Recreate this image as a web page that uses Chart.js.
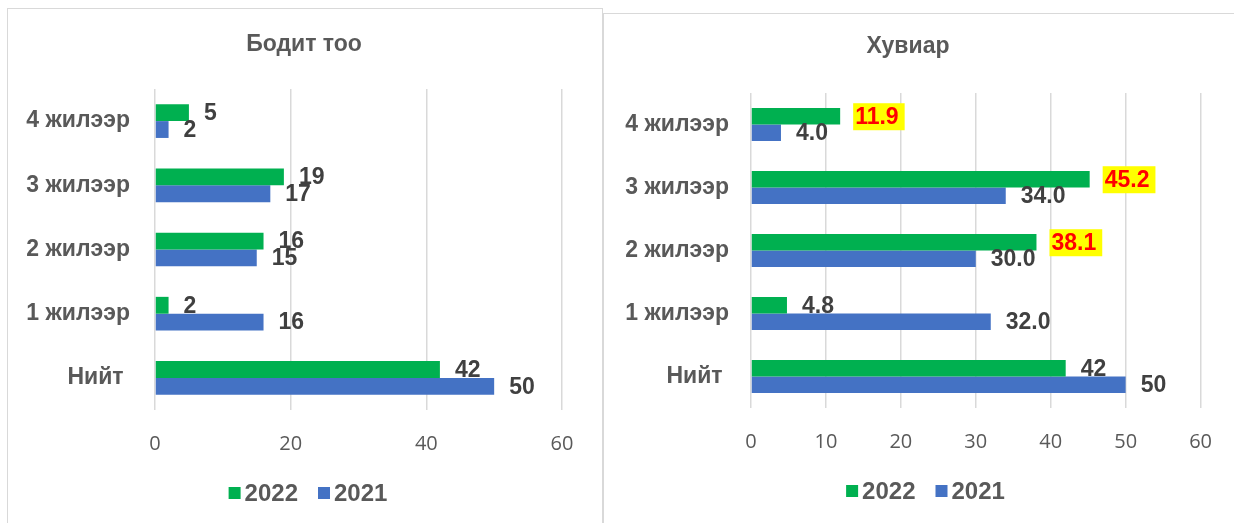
<!DOCTYPE html>
<html><head><meta charset="utf-8">
<script src="https://cdn.jsdelivr.net/npm/chart.js@4/dist/chart.umd.min.js"></script>
<style>
html,body{margin:0;padding:0;background:#fff;width:1234px;height:523px;overflow:hidden;position:relative}
.panel{position:absolute;border:1.5px solid #d9d9d9;box-sizing:border-box;background:#fff}
canvas{position:absolute;top:0}
</style></head><body>
<div class="panel" style="left:7px;top:8px;width:596px;height:540px"></div>
<div class="panel" style="left:603px;top:13px;width:660px;height:540px"></div>
<canvas id="c1" width="594" height="523" style="left:8px"></canvas>
<canvas id="c2" width="629" height="523" style="left:605px"></canvas>
<script>
const categories = ['4 жилээр', '3 жилээр', '2 жилээр', '1 жилээр', 'Нийт '];
const seriesNames = ['2022', '2021'];
const count2022 = [5, 19, 16, 2, 42];
const count2021 = [2, 17, 15, 16, 50];
const pct2022 = [11.9, 45.2, 38.1, 4.8, 42];
const pct2021 = [4.0, 34.0, 30.0, 32.0, 50];
const pctDecimals = [1, 1, 1, 1, 0];
const pctHighlight2022 = [true, true, true, false, false];
const countTickStep = 20;
const pctTickStep = 10;
const axisMax = 60;

const GREEN = '#00B050', BLUE = '#4472C4';
const LABEL_FONT = '"Liberation Sans", Arial, sans-serif';

const barLabelPlugin = {
  id: 'barLabels',
  afterDatasetsDraw(chart, args, opts) {
    const ctx = chart.ctx;
    ctx.save();
    ctx.font = 'bold 23px ' + LABEL_FONT;
    ctx.textBaseline = 'middle';
    ctx.textAlign = 'left';
    chart.data.datasets.forEach((ds, di) => {
      const meta = chart.getDatasetMeta(di);
      meta.data.forEach((bar, i) => {
        const txt = opts.texts[di][i];
        const x = bar.x + 15, y = bar.y + 1;
        const hl = opts.highlight && opts.highlight[di] && opts.highlight[di][i];
        if (hl) {
          const w = ctx.measureText(txt).width;
          ctx.fillStyle = '#FFFF00';
          ctx.fillRect(x - 2, y - 14, w + 8, 27);
          ctx.fillStyle = '#FF0000';
        } else {
          ctx.fillStyle = '#404040';
        }
        ctx.fillText(txt, x, y);
      });
    });
    ctx.restore();
  }
};

const titleLegendPlugin = {
  id: 'titleLegend',
  afterDraw(chart, args, opts) {
    const ctx = chart.ctx;
    ctx.save();
    ctx.textBaseline = 'middle';
    ctx.textAlign = 'center';
    ctx.fillStyle = '#595959';
    ctx.font = 'bold 23px ' + LABEL_FONT;
    ctx.fillText(opts.title, opts.tx, opts.ty);
    ctx.font = 'bold 24px ' + LABEL_FONT;
    ctx.textAlign = 'left';
    const ds = chart.data.datasets;
    const widths = ds.map(d => ctx.measureText(d.label).width);
    let total = 0;
    widths.forEach((w, i) => { total += 12 + 4 + w + (i < widths.length - 1 ? 20 : 0); });
    let x = opts.cx - total / 2;
    ds.forEach((d, i) => {
      ctx.fillStyle = d.backgroundColor;
      ctx.fillRect(x, opts.cy - 6, 12, 12);
      ctx.fillStyle = '#595959';
      ctx.fillText(d.label, x + 16, opts.cy + 1);
      x += 12 + 4 + widths[i] + 20;
    });
    ctx.restore();
  }
};

function makeChart(id, titleText, d2022, d2021, step, texts, highlight, geo) {
  return new Chart(document.getElementById(id), {
    type: 'bar',
    data: {
      labels: categories,
      datasets: [
        { label: seriesNames[0], data: d2022, backgroundColor: GREEN, categoryPercentage: 0.525, barPercentage: 1.0 },
        { label: seriesNames[1], data: d2021, backgroundColor: BLUE, categoryPercentage: 0.525, barPercentage: 1.0 }
      ]
    },
    plugins: [barLabelPlugin, titleLegendPlugin],
    options: {
      indexAxis: 'y',
      responsive: false,
      animation: false,
      devicePixelRatio: 1,
      layout: { padding: { left: 0, right: geo.padRight, top: geo.padTop, bottom: geo.padBottom } },
      scales: {
        x: {
          min: 0, max: axisMax,
          ticks: { stepSize: step, color: '#595959', font: { family: '"Open Sans", sans-serif', size: 20 }, padding: geo.tickPad },
          grid: { color: '#d9d9d9', lineWidth: 1.5, drawTicks: false },
          border: { display: false },
          afterFit(scale) { scale.height = geo.xHeight; }
        },
        y: {
          ticks: { color: '#595959', font: { family: LABEL_FONT, size: 23, weight: 'bold' }, padding: geo.yPad },
          grid: { display: false, drawTicks: false },
          border: { display: false },
          afterFit(scale) { scale.width = geo.yWidth; }
        }
      },
      plugins: {
        legend: { display: false },
        tooltip: { enabled: false },
        title: { display: false },
        barLabels: { texts: texts, highlight: highlight },
        titleLegend: { title: titleText, tx: geo.titleX, ty: geo.titleY, cx: geo.legendCx, cy: geo.legendCy }
      }
    }
  });
}

makeChart('c1', 'Бодит тоо', count2022, count2021, countTickStep,
  [count2022.map(String), count2021.map(String)], null,
  { padRight: 40, padTop: 89, padBottom: 60, xHeight: 53, tickPad: 22, yPad: 25, yWidth: 147,
    titleX: 296, titleY: 45, legendCx: 300, legendCy: 493 });

makeChart('c2', 'Хувиар', pct2022, pct2021, pctTickStep,
  [pct2022.map((v, i) => v.toFixed(pctDecimals[i])), pct2021.map((v, i) => v.toFixed(pctDecimals[i]))],
  [pctHighlight2022, null],
  { padRight: 32, padTop: 93, padBottom: 60, xHeight: 55, tickPad: 22, yPad: 22, yWidth: 146,
    titleX: 303, titleY: 47, legendCx: 320.5, legendCy: 491 });
</script>
</body></html>
